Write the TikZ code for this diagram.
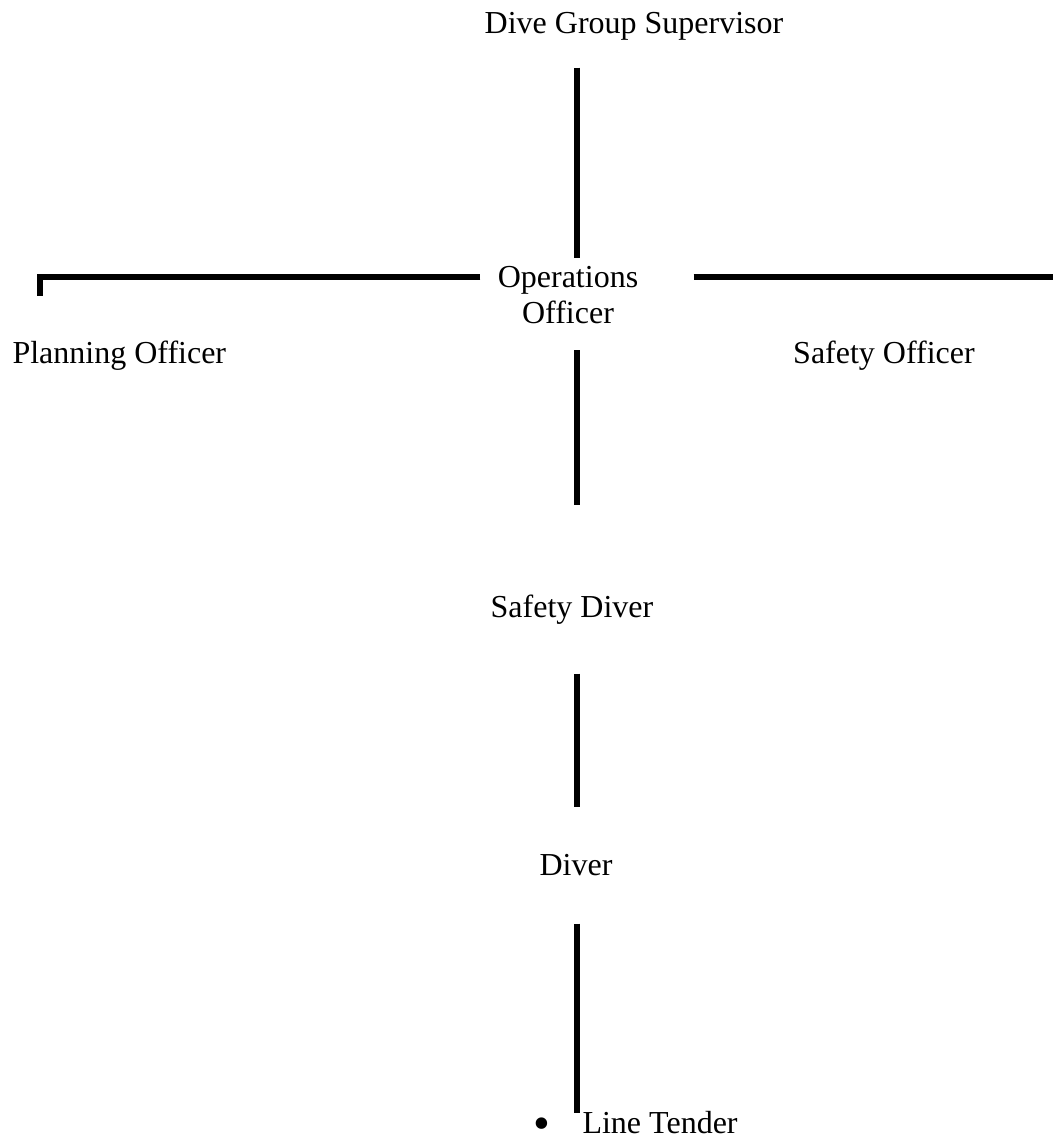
\documentclass[tikz,border=0pt]{standalone}
\usepackage{fontspec}
\setmainfont{Liberation Serif}
\usetikzlibrary{calc}

\begin{document}
\begin{tikzpicture}[x=0.375pt, y=-0.375pt,
    role/.style={inner sep=0pt, font=\fontsize{12}{13.5}\selectfont, execute at begin node=\strut},
    conn/.style={line width=2.25pt}]
            \useasboundingbox (0,0) rectangle (1052,1142);
            \coordinate (hub) at (577,277);

            % Top
            \node[role, anchor=base] (sup) at (634,33) {Dive Group Supervisor};

            % Middle
            \node[role, align=center, anchor=north] (ops) at (568,266) {Operations\\Officer\strut};
            \node[role, anchor=base west] (plan) at (12,363) {Planning Officer};
            \node[role, anchor=base] (safe) at (884,363) {Safety Officer};

            % Down the chain
            \node[role, anchor=base west] (tender) at (582,1133) {\llap{\raisebox{-2.6pt}[0pt][0pt]{\scalebox{1.5}{\textbullet}}\hspace{12pt}}Line Tender};
            \node[role, anchor=base] (diver) at (576,875) {Diver};
            \node[role, anchor=base] (sdiver) at (572,617) {Safety Diver};

            \draw[conn, shorten <=8.7pt, shorten >=2.9pt] (sup.south -| hub) -- (ops.north -| hub);
            \draw[conn] ($(ops.west |- hub)+(-17,0)$) -| ($(plan.north west)+(28,-41)$);
            \draw[conn] ($(ops.east |- hub)+(55,0)$) -- ($(safe.east |- hub)+(79,0)$);
            \draw[conn, shorten <=5.7pt, shorten >=32.2pt] (ops.south -| hub) -- (sdiver.north -| hub);
            \draw[conn, shorten <=17pt, shorten >=16pt] (sdiver.south -| hub) -- (diver.north -| hub);
            \draw[conn, shorten <=14pt, shorten >=-2pt] (diver.south -| hub) -- (tender.north -| hub);
        \end{tikzpicture}
\end{document}
